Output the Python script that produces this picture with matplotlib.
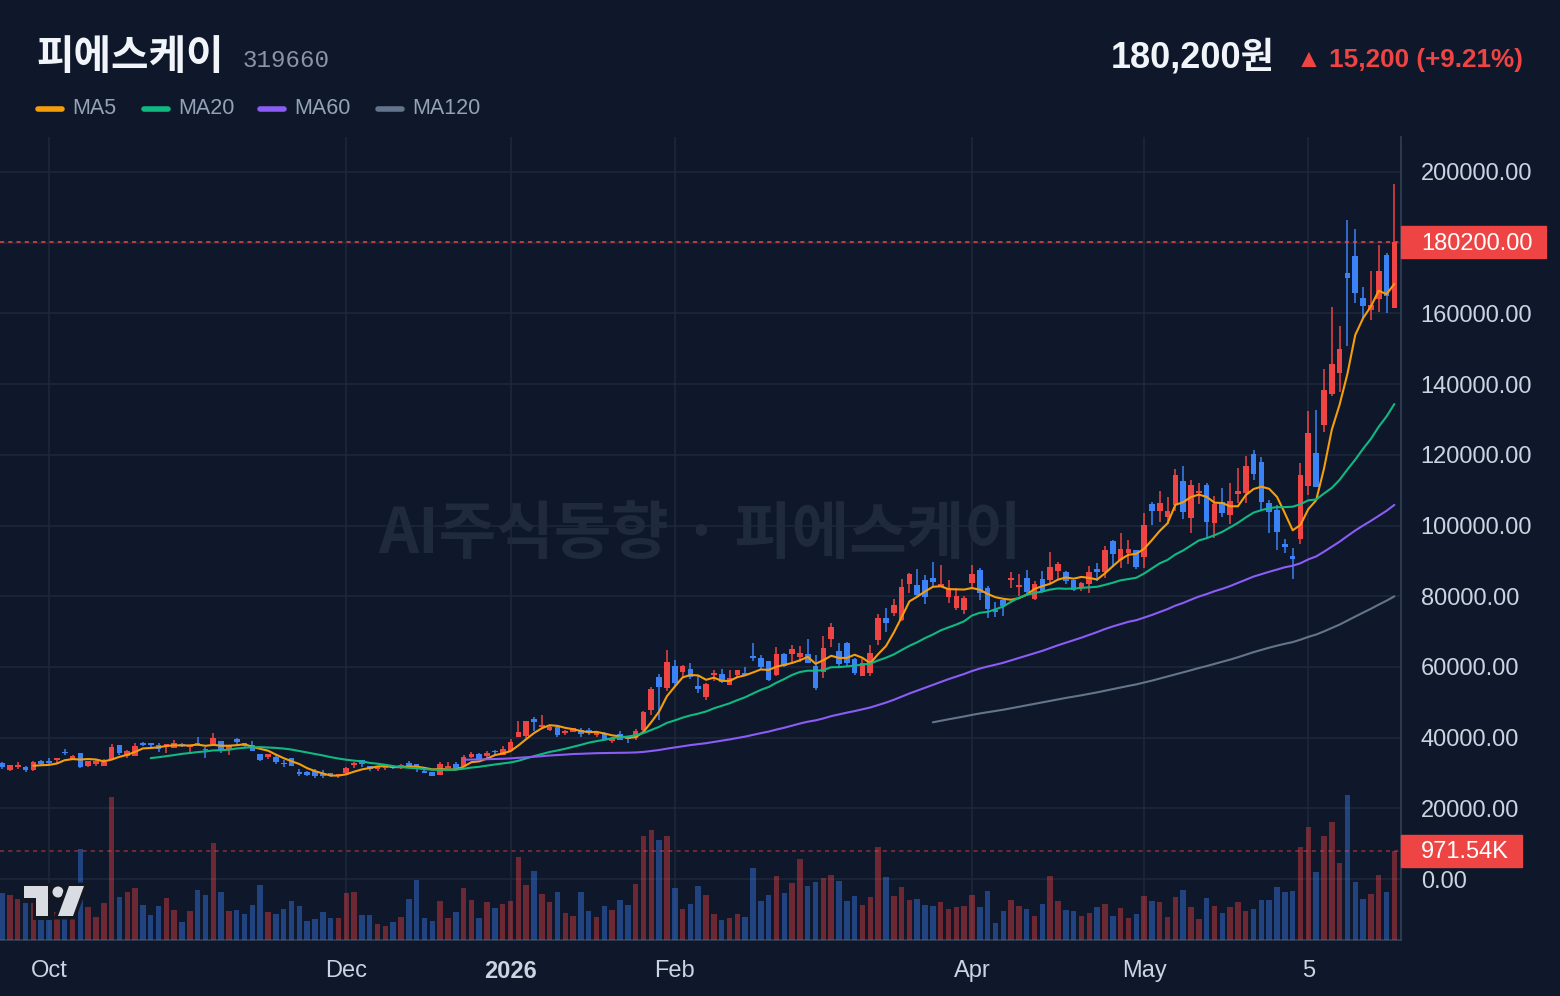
import numpy as np
import pandas as pd
import matplotlib
matplotlib.use('Agg')
import matplotlib.pyplot as plt
import matplotlib.transforms as mtransforms
import matplotlib.patheffects as pe
from matplotlib.patches import Rectangle, Polygon, Circle

plt.rcParams['font.family'] = ['Liberation Sans', 'Noto Sans CJK KR', 'DejaVu Sans']

# ---------------- data (prices in thousand won, volume in thousand shares) -------------
opens = [32.9, 30.8, 31.6, 31.8, 30.8, 33.5, 33.3, 33.7, 36.0, 33.9,
         35.6, 32.1, 32.5, 32.1, 33.9, 37.8, 34.8, 34.9, 38.6, 38.4,
         37.8, 37.4, 37.1, 38.2, 37.3, 38.4, 36.8, 38.1, 39.0, 36.6,
         39.5, 38.4, 37.9, 35.4, 34.5, 34.4, 32.9, 34.1, 30.2, 30.4,
         30.6, 29.7, 29.9, 29.2, 29.9, 32.3, 33.7, 32.0, 31.0, 31.4,
         32.0, 31.3, 32.7, 32.4, 30.6, 30.3, 29.4, 31.4, 32.5, 32.1,
         34.6, 35.5, 34.9, 36.3, 35.1, 36.3, 40.3, 40.4, 45.4, 42.9,
         42.2, 43.1, 41.2, 41.6, 42.2, 42.2, 40.6, 41.4, 39.1, 41.0,
         40.0, 40.0, 42.2, 47.8, 57.2, 53.9, 60.3, 58.6, 59.5, 54.6,
         51.6, 57.7, 58.0, 55.0, 57.7, 58.4, 63.1, 62.4, 61.7, 57.7,
         63.6, 63.6, 62.7, 63.6, 60.3, 58.6, 67.9, 64.5, 66.8, 62.2,
         57.4, 58.4, 67.6, 73.7, 75.2, 73.3, 83.5, 83.2, 84.6, 85.2,
         82.7, 79.9, 76.7, 76.1, 83.8, 87.4, 82.4, 76.1, 78.9, 84.7,
         82.7, 85.2, 79.1, 84.9, 84.6, 87.1, 86.9, 84.6, 82.2, 83.5,
         87.8, 86.9, 95.6, 90.2, 92.1, 93.1, 91.2, 106.2, 104.2, 102.3,
         105.8, 112.6, 102.0, 109.1, 111.5, 100.8, 106.7, 103.0, 108.9, 109.1,
         120.2, 117.9, 106.3, 104.4, 94.9, 91.4, 96.1, 111.3, 120.4, 128.4,
         137.2, 143.2, 171.5, 176.2, 164.3, 161.0, 164.0, 176.5, 161.6]
highs = [33.0, 32.3, 33.1, 31.9, 33.4, 33.8, 34.2, 34.2, 36.8, 35.2,
         35.7, 33.5, 33.6, 33.9, 38.1, 37.9, 36.5, 38.6, 38.7, 38.5,
         38.4, 38.2, 39.3, 38.6, 38.0, 40.3, 37.4, 41.2, 39.1, 38.0,
         40.0, 38.6, 39.0, 35.5, 35.4, 35.0, 33.6, 34.2, 31.0, 30.5,
         31.0, 30.8, 30.0, 29.7, 31.8, 33.1, 33.8, 32.1, 31.9, 32.5,
         32.1, 32.6, 33.3, 32.5, 30.8, 30.4, 33.0, 33.0, 33.0, 35.0,
         36.0, 35.6, 36.2, 36.5, 37.7, 39.6, 44.7, 44.8, 45.9, 46.4,
         43.4, 43.2, 42.2, 42.8, 42.8, 42.8, 41.7, 41.5, 40.1, 42.0,
         40.2, 42.4, 47.4, 54.4, 57.9, 64.8, 62.0, 60.5, 61.2, 57.3,
         55.4, 59.0, 59.3, 59.0, 59.2, 60.0, 66.7, 63.5, 61.8, 65.5,
         64.0, 66.2, 66.0, 68.0, 63.4, 68.7, 72.5, 66.9, 67.0, 62.6,
         62.2, 66.2, 75.1, 76.7, 79.2, 84.9, 86.5, 87.7, 86.0, 89.7,
         88.8, 84.6, 82.4, 80.0, 88.8, 88.0, 82.9, 78.3, 79.0, 86.9,
         86.2, 87.4, 84.2, 87.2, 92.6, 89.7, 87.0, 84.7, 84.0, 88.5,
         89.4, 94.2, 96.0, 98.0, 96.0, 93.2, 103.5, 106.7, 109.8, 108.0,
         116.0, 116.8, 112.8, 112.0, 111.9, 108.4, 110.5, 111.9, 116.4, 119.7,
         121.4, 119.4, 107.2, 105.8, 96.3, 93.5, 117.6, 132.4, 132.7, 144.2,
         161.9, 156.4, 186.4, 184.0, 167.5, 172.0, 179.4, 177.0, 196.6]
lows = [31.2, 30.6, 31.0, 30.4, 30.6, 32.0, 32.2, 32.9, 35.1, 33.9,
        31.5, 31.8, 32.0, 32.0, 33.6, 35.2, 34.1, 34.8, 37.7, 37.0,
        36.0, 35.7, 37.0, 37.2, 35.9, 37.6, 34.3, 37.8, 35.7, 35.1,
        38.0, 37.2, 36.1, 33.3, 33.9, 32.4, 31.6, 31.9, 29.0, 29.2,
        28.6, 28.5, 28.8, 28.6, 29.8, 31.4, 31.8, 30.6, 30.6, 30.9,
        31.0, 31.2, 31.6, 30.4, 30.0, 29.0, 29.3, 31.3, 30.9, 32.0,
        34.2, 33.6, 34.3, 34.8, 35.0, 36.2, 40.1, 40.0, 42.0, 42.8,
        41.9, 40.3, 40.6, 41.5, 40.2, 40.6, 40.1, 39.5, 38.4, 39.2,
        38.5, 39.4, 42.0, 46.4, 45.0, 53.2, 54.7, 56.8, 56.5, 52.6,
        50.6, 56.0, 55.4, 54.8, 57.0, 57.6, 61.7, 59.4, 56.0, 57.5,
        59.9, 60.8, 61.3, 61.0, 53.6, 56.9, 65.7, 59.7, 59.9, 57.7,
        57.3, 57.4, 66.2, 69.8, 74.4, 73.0, 80.8, 79.7, 77.8, 82.7,
        82.5, 78.1, 76.0, 75.0, 82.5, 79.0, 73.8, 74.0, 74.5, 82.2,
        80.1, 80.1, 79.0, 81.0, 83.8, 84.6, 83.5, 81.6, 81.5, 80.8,
        84.4, 85.2, 88.2, 88.0, 89.0, 87.8, 88.0, 100.1, 101.1, 100.4,
        104.2, 101.8, 98.0, 106.0, 96.6, 96.6, 102.5, 100.3, 106.3, 106.3,
        112.9, 104.2, 97.9, 93.2, 92.3, 85.0, 94.9, 108.6, 110.8, 126.5,
        136.6, 137.8, 150.8, 163.0, 158.3, 158.0, 160.5, 160.2, 161.6]
closes = [31.7, 32.2, 32.2, 30.9, 33.2, 32.4, 32.7, 34.1, 35.6, 34.8,
          31.8, 33.4, 33.4, 33.0, 37.3, 35.7, 36.2, 37.6, 37.9, 37.9,
          36.7, 38.1, 38.5, 37.7, 37.9, 37.9, 36.4, 39.8, 36.5, 37.9,
          38.7, 37.6, 36.3, 33.6, 35.3, 33.2, 32.5, 32.0, 29.6, 29.5,
          29.0, 29.2, 29.0, 29.6, 31.3, 32.7, 32.4, 31.0, 31.8, 31.8,
          31.3, 32.2, 32.1, 31.5, 30.1, 29.2, 32.5, 31.8, 31.0, 34.4,
          35.5, 33.7, 35.7, 35.9, 36.8, 38.8, 41.6, 44.7, 44.5, 43.6,
          43.1, 40.7, 41.9, 42.6, 41.0, 41.4, 41.2, 39.6, 40.0, 39.4,
          39.6, 41.9, 47.3, 53.7, 54.4, 61.3, 55.4, 60.3, 57.2, 53.7,
          55.2, 58.4, 55.8, 57.0, 59.1, 57.8, 62.4, 60.1, 56.3, 63.7,
          60.3, 65.2, 63.8, 61.2, 53.9, 65.4, 71.4, 60.8, 61.2, 58.4,
          61.0, 63.8, 73.7, 72.5, 77.5, 82.7, 86.3, 80.3, 79.9, 84.1,
          83.5, 82.2, 80.0, 79.6, 86.3, 81.0, 76.3, 75.4, 77.3, 85.0,
          83.2, 81.3, 83.5, 81.3, 88.3, 89.1, 84.3, 81.8, 83.8, 86.8,
          86.9, 93.0, 91.9, 93.4, 93.4, 88.2, 100.1, 104.2, 106.4, 104.2,
          114.3, 103.9, 111.5, 109.8, 101.1, 106.0, 103.4, 106.9, 109.8, 116.8,
          114.7, 106.7, 103.9, 98.3, 93.8, 90.5, 114.3, 126.3, 110.8, 138.3,
          145.7, 149.8, 169.9, 165.7, 162.1, 162.4, 172.0, 165.0, 180.2]
volumes = [512, 491, 447, 403, 400, 300, 330, 300, 280, 250,
           988, 360, 251, 403, 1548, 469, 523, 567, 382, 273,
           371, 458, 327, 196, 316, 545, 491, 1057, 523, 316,
           327, 283, 382, 600, 305, 283, 338, 425, 371, 207,
           229, 305, 240, 240, 512, 523, 273, 273, 174, 153,
           196, 251, 447, 654, 240, 207, 425, 240, 305, 567,
           436, 240, 414, 349, 392, 425, 905, 600, 752, 501,
           414, 523, 294, 262, 523, 316, 251, 371, 327, 436,
           382, 611, 1134, 1199, 1090, 1134, 567, 338, 392, 589,
           491, 283, 218, 240, 283, 251, 785, 425, 491, 698,
           512, 621, 883, 589, 632, 676, 709, 643, 425, 480,
           382, 469, 1014, 687, 480, 578, 436, 447, 382, 371,
           414, 338, 360, 371, 491, 360, 534, 185, 316, 436,
           371, 338, 262, 392, 698, 425, 327, 316, 262, 294,
           360, 392, 262, 349, 240, 283, 480, 425, 414, 251,
           469, 545, 360, 229, 458, 371, 294, 360, 414, 316,
           338, 436, 436, 578, 523, 534, 1014, 1232, 741, 1134,
           1286, 839, 1570, 632, 447, 501, 709, 523, 971.54]

tick_idx = [6, 44, 65, 86, 124, 146, 167]
tick_labels = ['Oct', 'Dec', '2026', 'Feb', 'Apr', 'May', '5']
ma_windows = [5, 20, 60, 120]
ma_colors = ['#f59e0b', '#10b981', '#8b5cf6', '#64748b']
ma_names = ['MA5', 'MA20', 'MA60', 'MA120']

name = '피에스케이'
code = '319660'
change = 15200
change_pct = 9.21
watermark = 'AI주식동향 · 피에스케이'

# ---------------- styling ----------------
BG = '#0f172a'
GRID = '#1e293b'
SPINE = '#334155'
UP = '#ef4444'
DOWN = '#3b82f6'
LABEL = '#cbd5e1'

o = np.array(opens) * 1000
h = np.array(highs) * 1000
l = np.array(lows) * 1000
c = np.array(closes) * 1000
v = np.array(volumes) * 1000
n = len(c)
x = np.arange(n)
up = c >= o
cols = np.where(up, UP, DOWN)

W, H = 1560, 996
L, R, B, T = 0, 1401, 940, 137
fig = plt.figure(figsize=(W / 100, H / 100), dpi=100, facecolor=BG)
ax = fig.add_axes([L / W, 1 - B / H, (R - L) / W, (B - T) / H])
ax.set_facecolor(BG)
axv = ax.twinx()

px_price = 200000 / 707.0
ax.set_xlim(-0.27, 178.85)
ax.set_ylim(-61 * px_price, 200000 + 35 * px_price)
vmax = v[-1] * 803 / 89.5
axv.set_ylim(0, vmax)

# grid & axes
ax.set_yticks(np.arange(0, 200001, 20000))
ax.yaxis.tick_right()
ax.yaxis.set_major_formatter(matplotlib.ticker.FuncFormatter(lambda val, pos: f"{val:.2f}"))
ax.tick_params(axis='y', length=0, pad=14.2, labelsize=17, labelcolor=LABEL)
ax.set_xticks(tick_idx)
ax.set_xticklabels(tick_labels)
ax.tick_params(axis='x', length=0, pad=14.5, labelsize=17, labelcolor=LABEL)
for lbl in ax.get_xticklabels():
    if lbl.get_text() == '2026':
        lbl.set_fontweight('bold')
ax.grid(True, color=GRID, lw=1.1)
ax.set_axisbelow(True)
for s in ['top', 'left']:
    ax.spines[s].set_visible(False)
for s in ['right', 'bottom']:
    ax.spines[s].set_color(SPINE)
    ax.spines[s].set_linewidth(1.2)
for s in axv.spines.values():
    s.set_visible(False)
axv.set_yticks([])

# watermark
ax.text(0.4996, 0.505, watermark, transform=ax.transAxes, ha='center', va='center',
        fontsize=45, fontweight='bold', color='#1f2a3d', family=['Noto Sans CJK KR'], zorder=0.5)

# volume
axv.bar(x, v, width=0.7, color=cols, alpha=0.42, lw=0, zorder=2)
axv.axhline(v[-1], color=UP, alpha=0.55, lw=1.1, dashes=(2.7, 2.7), zorder=3)

# candles
ax.vlines(x, l, h, colors=cols, lw=1.1, zorder=3)
body_b = np.minimum(o, c)
body_h = np.maximum(np.abs(c - o), 450)
ax.bar(x, body_h, bottom=body_b, width=0.72, color=cols, lw=0, zorder=4)

# moving averages
cs = pd.Series(c)
for w, col in zip(ma_windows, ma_colors):
    ax.plot(x, cs.rolling(w).mean(), color=col, lw=1.5, zorder=5, solid_capstyle='round')

ax.axhline(c[-1], color=UP, lw=1.1, dashes=(2.7, 2.7), zorder=6)

# last-value labels on the right axis
tr = mtransforms.blended_transform_factory(ax.transAxes, ax.transData)
bh = 32 * px_price
ax.add_patch(Rectangle((1.0, c[-1] - bh / 2), 145 / 1401, bh, transform=tr, color=UP,
                       clip_on=False, zorder=10))
ax.text(1 + 20 / 1401, c[-1] - 2 * px_price, f"{c[-1]:.2f}", transform=tr, color='white',
        va='center', ha='left', fontsize=17, clip_on=False, zorder=11)
trv = mtransforms.blended_transform_factory(axv.transAxes, axv.transData)
vpx = vmax / 803
vh = 32 * vpx
axv.add_patch(Rectangle((1.0, v[-1] - vh / 2), 121 / 1401, vh, transform=trv, color=UP,
                        clip_on=False, zorder=10))
axv.text(1 + 20 / 1401, v[-1] - 2 * vpx, f"{v[-1] / 1000:.2f}K", transform=trv, color='white',
         va='center', ha='left', fontsize=17, clip_on=False, zorder=11)

# ---------------- overlay (header, legend, logo) ----------------
ov = fig.add_axes([0, 0, 1, 1])
ov.set_xlim(0, W)
ov.set_ylim(H, 0)
ov.axis('off')

ov.text(36, 69, name, fontsize=29.4, fontweight='bold', color='#f1f5f9',
        family=['Noto Sans CJK KR'], va='baseline', ha='left')
ov.text(243, 67, code, fontsize=17.4, color='#8b95a7', family=['Liberation Mono'],
        va='baseline', ha='left')
ov.text(1275, 67, f"{c[-1]:,.0f}원", fontsize=26, fontweight='bold', color='#f1f5f9',
        va='baseline', ha='right')
ov.text(1523, 67, f"▲ {change:,} (+{change_pct:.2f}%)", fontsize=18.8, fontweight='bold',
        color=UP, va='baseline', ha='right',
        family=['Liberation Sans', 'DejaVu Sans'])

leg_x = [36, 142, 258, 376]
for lx, nm, col in zip(leg_x, ma_names, ma_colors):
    ov.plot([lx + 2, lx + 26], [109, 109], color=col, lw=4, solid_capstyle='round')
    ov.text(lx + 36, 114, nm, fontsize=15.5, color='#94a3b8', va='baseline', ha='left')

# TradingView-style logo
stroke = [pe.withStroke(linewidth=5, foreground='#131722')]
logo_col = '#d9dce3'
for patch in [Polygon([(24, 886), (48, 886), (48, 916), (36, 916), (36, 898), (24, 898)], closed=True),
              Circle((58, 892), 5.5),
              Polygon([(69, 886), (84, 886), (73, 916), (58, 916)], closed=True)]:
    patch.set_facecolor(logo_col)
    patch.set_edgecolor('none')
    patch.set_path_effects(stroke)
    ov.add_patch(patch)

fig.savefig('out.png', dpi=100, facecolor=BG)
